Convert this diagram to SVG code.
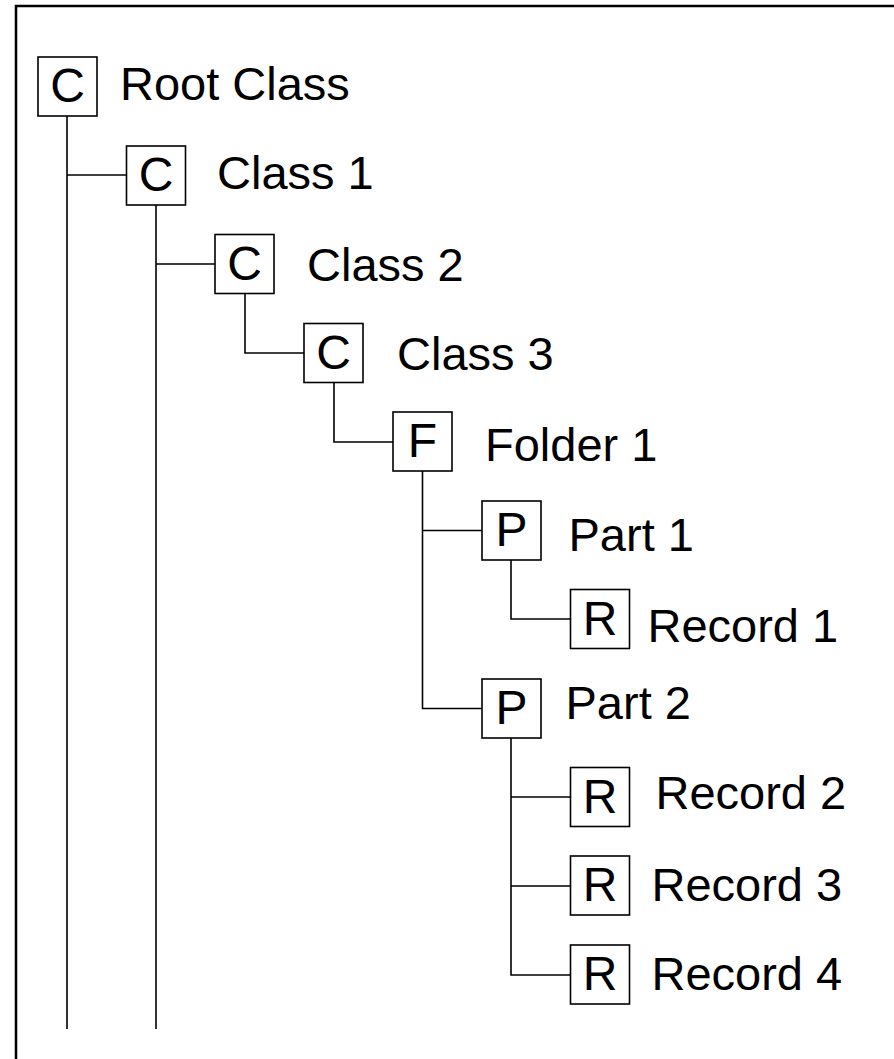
<svg xmlns="http://www.w3.org/2000/svg" width="894" height="1059" viewBox="0 0 894 1059">
<style>
.box{fill:#fff;stroke:#000;stroke-width:1.6}
.ic{font-family:"Liberation Sans",Arial,sans-serif;font-size:48px;fill:#000;text-anchor:middle}
.lb{font-family:"Liberation Sans",Arial,sans-serif;font-size:47px;fill:#000}
.ln{fill:none;stroke:#000;stroke-width:1.6}
</style>
<rect width="894" height="1059" fill="#fff"/>
<path d="M16 1059 V6 H894" fill="none" stroke="#000" stroke-width="2.5"/>
<g id="connectors">
<path class="ln" d="M67 115 V1029 M67 175 H126.5"/>
<path class="ln" d="M156 205 V1029 M156 264 H215"/>
<path class="ln" d="M245 293.5 V353 H304"/>
<path class="ln" d="M334 382.5 V442 H393"/>
<path class="ln" d="M422.5 471 V708.5 H482 M422.5 530.5 H482"/>
<path class="ln" d="M511 560 V619 H570.5"/>
<path class="ln" d="M511 738 V975 H570.5 M511 797 H570.5 M511 886 H570.5"/>
</g>
<g id="root"><rect class="box" x="38" y="57" width="59" height="59"/><text class="ic" x="67.5" y="102">C</text><text class="lb" x="120" y="100">Root Class</text></g>
<g id="class1"><rect class="box" x="126.5" y="146" width="59" height="59"/><text class="ic" x="156" y="191">C</text><text class="lb" x="217" y="189">Class 1</text></g>
<g id="class2"><rect class="box" x="215" y="234.5" width="59" height="59"/><text class="ic" x="244.5" y="279.5">C</text><text class="lb" x="307" y="281">Class 2</text></g>
<g id="class3"><rect class="box" x="304" y="323.5" width="59" height="59"/><text class="ic" x="333.5" y="368.5">C</text><text class="lb" x="397" y="370">Class 3</text></g>
<g id="folder1"><rect class="box" x="393" y="412" width="59" height="59"/><text class="ic" x="422.5" y="457">F</text><text class="lb" x="485" y="461">Folder 1</text></g>
<g id="part1"><rect class="box" x="482" y="501" width="59" height="59"/><text class="ic" x="511.5" y="546">P</text><text class="lb" x="568.5" y="551">Part 1</text></g>
<g id="record1"><rect class="box" x="570.5" y="589.5" width="59" height="59"/><text class="ic" x="600" y="634.5">R</text><text class="lb" x="647.5" y="642">Record 1</text></g>
<g id="part2"><rect class="box" x="482" y="679" width="59" height="59"/><text class="ic" x="511.5" y="724">P</text><text class="lb" x="565.5" y="719">Part 2</text></g>
<g id="record2"><rect class="box" x="570.5" y="767.5" width="59" height="59"/><text class="ic" x="600" y="812.5">R</text><text class="lb" x="655.5" y="809">Record 2</text></g>
<g id="record3"><rect class="box" x="570.5" y="856" width="59" height="59"/><text class="ic" x="600" y="901">R</text><text class="lb" x="651.5" y="901">Record 3</text></g>
<g id="record4"><rect class="box" x="570.5" y="945" width="59" height="59"/><text class="ic" x="600" y="990">R</text><text class="lb" x="651.5" y="990">Record 4</text></g>
</svg>
